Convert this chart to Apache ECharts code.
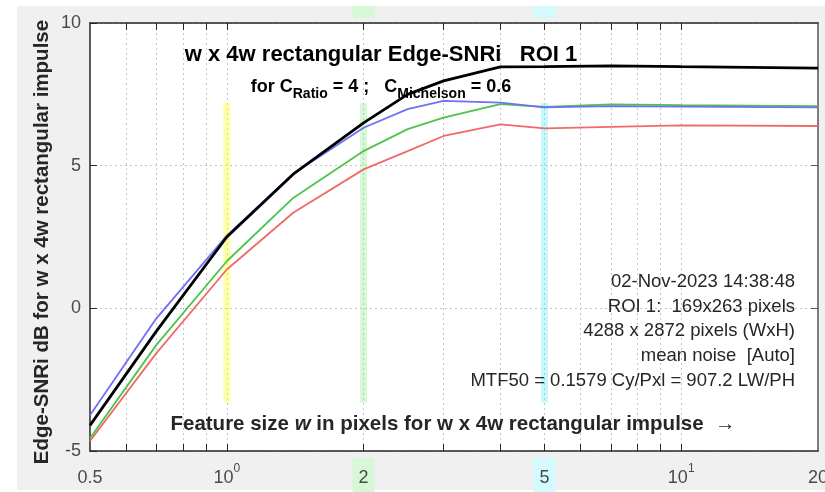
<!DOCTYPE html>
<html>
<head>
<meta charset="utf-8">
<script src="https://cdn.jsdelivr.net/npm/echarts@6/dist/echarts.min.js"></script>
<style>
  html, body { margin: 0; padding: 0; background: #fff; }
  #chart { width: 825px; height: 492px; }
</style>
</head>
<body>
<div id="chart"></div>
<script>
// feature size w in pixels
const sizes = [0.5, 0.7, 1, 1.4, 2, 2.5, 3, 4, 5, 7, 10, 20]
const snrBlack = [-4.1, -0.8, 2.5, 4.7, 6.5, 7.5, 7.97, 8.46, 8.47, 8.5, 8.47, 8.42]
const snrBlue = [-3.75, -0.35, 2.55, 4.72, 6.33, 6.98, 7.27, 7.21, 7.04, 7.09, 7.07, 7.04]
const snrGreen = [-4.55, -1.28, 1.65, 3.87, 5.51, 6.28, 6.68, 7.16, 7.06, 7.15, 7.12, 7.09]
const snrRed = [-4.65, -1.57, 1.36, 3.35, 4.87, 5.51, 6.04, 6.45, 6.31, 6.36, 6.41, 6.39]

const xLabels = [0.5, 1, 2, 5, 10, 20]
const xLabelsTop = [1, 2, 5, 10]
const xGrid = [0.6, 0.7, 0.8, 0.9, 1, 2, 3, 4, 5, 6, 7, 8, 9, 10]
const bandX = [1, 2, 5]
const bandY = [-3.3, 7.2]
const bandColors = ['rgba(255,255,60,0.45)', 'rgba(140,235,140,0.35)', 'rgba(110,235,245,0.4)']

const infoLines = [
  '02-Nov-2023 14:38:48',
  'ROI 1:  169x263 pixels',
  '4288 x 2872 pixels (WxH)',
  'mean noise  [Auto]',
  'MTF50 = 0.1579 Cy/Pxl = 907.2 LW/PH'
]

const FONT = 'Liberation Sans, Arial, sans-serif'
const tickColor = '#4a4a4a'

function pairs(ys) {
  return sizes.map((x, i) => [x, ys[i]])
}

function xLabelFormatter(v) {
  const r = Math.round(v * 10) / 10
  if (r === 1) return '{n|10}{sup|0}'
  if (r === 10) return '{n|10}{sup|1}'
  if (r === 2) return '{g|2}'
  if (r === 5) return '{c|5}'
  return '{n|' + r + '}'
}

const xRich = {
  n: { fontSize: 18, color: tickColor, fontFamily: FONT, padding: [11, 0, 11, 0] },
  sup: { fontSize: 12, color: tickColor, fontFamily: FONT, padding: [0, 0, 18, 0] },
  g: { fontSize: 18, color: tickColor, fontFamily: FONT, backgroundColor: '#d6f8d6', padding: [11, 6, 11, 6] },
  c: { fontSize: 18, color: tickColor, fontFamily: FONT, backgroundColor: '#d3fafc', padding: [11, 6, 11, 6] }
}

function xAxisDef(position, margin, labels) {
  return {
    type: 'log',
    logBase: 10,
    min: 0.5,
    max: 20,
    position: position,
    axisLine: { show: true, onZero: false, lineStyle: { color: '#262626', width: 1.5 } },
    axisTick: { show: true, inside: true, length: 7, customValues: xGrid, lineStyle: { color: '#262626' } },
    axisLabel: {
      show: true,
      customValues: labels,
      margin: margin,
      formatter: xLabelFormatter,
      rich: xRich
    },
    splitLine: position === 'bottom'
      ? { show: true, lineStyle: { color: '#c4c4c4', type: [2, 3], width: 1 } }
      : { show: false },
    minorTick: { show: false }
  }
}

const chart = echarts.init(document.getElementById('chart'))

const bandSeries = bandX.map((x, i) => ({
  type: 'line',
  data: [[x, bandY[0]], [x, bandY[1]]],
  symbol: 'none',
  silent: true,
  z: 1,
  lineStyle: { width: 7, color: bandColors[i], cap: 'butt' }
}))

function curve(ys, color, width, z) {
  return {
    type: 'line',
    data: pairs(ys),
    symbol: 'none',
    z: z,
    lineStyle: { width: width, color: color },
    itemStyle: { color: color }
  }
}

chart.setOption({
  backgroundColor: '#ffffff',
  animation: false,
  grid: {
    left: 90, top: 23, right: 7, bottom: 41,
    containLabel: false,
    outerBoundsMode: 'none',
    show: true,
    backgroundColor: '#ffffff',
    borderWidth: 0
  },
  xAxis: [xAxisDef('bottom', 7, xLabels), xAxisDef('top', 5, xLabelsTop)],
  yAxis: [
    {
      type: 'value', min: -5, max: 10, interval: 5, position: 'left',
      axisLine: { show: true, onZero: false, lineStyle: { color: '#262626', width: 1.5 } },
      axisTick: { show: true, inside: true, length: 7, lineStyle: { color: '#262626' } },
      axisLabel: { fontSize: 18, color: tickColor, fontFamily: FONT, margin: 9 },
      splitLine: { show: true, lineStyle: { color: '#c4c4c4', type: [2, 3], width: 1 } }
    },
    {
      type: 'value', min: -5, max: 10, interval: 5, position: 'right',
      axisLine: { show: true, onZero: false, lineStyle: { color: '#555555', width: 1.5 } },
      axisTick: { show: true, inside: true, length: 7, lineStyle: { color: '#555555' } },
      axisLabel: { show: false },
      splitLine: { show: false }
    }
  ],
  series: bandSeries.concat([
    curve(snrRed, '#f06a6a', 1.8, 3),
    curve(snrGreen, '#4cc44c', 1.8, 4),
    curve(snrBlue, '#6f6ff8', 1.8, 5),
    curve(snrBlack, '#000000', 2.8, 6)
  ]),
  graphic: [
    // gray figure background
    { type: 'rect', z: -10, shape: { x: 17, y: 6, width: 808, height: 484 }, style: { fill: '#f0f0f0' } },
    // white margins that cut off the upper tick labels
    { type: 'rect', z: 100, shape: { x: 0, y: 0, width: 825, height: 6 }, style: { fill: '#ffffff' } },
    { type: 'rect', z: 100, shape: { x: 0, y: 0, width: 17, height: 492 }, style: { fill: '#ffffff' } },
    {
      type: 'text', z: 50, x: 381, y: 55,
      style: {
        text: 'w x 4w rectangular Edge-SNRi   ROI 1',
        font: 'bold 22px ' + FONT, fill: '#000', align: 'center', verticalAlign: 'middle'
      }
    },
    {
      type: 'text', z: 50, x: 381, y: 87,
      style: {
        text: '{t|for C}{s|Ratio}{t| = 4 ;   C}{s|Michelson}{t| = 0.6}',
        align: 'center', verticalAlign: 'middle',
        rich: {
          t: { font: 'bold 18px ' + FONT, fill: '#000' },
          s: { font: 'bold 14px ' + FONT, fill: '#000', padding: [14, 0, 0, 0] }
        }
      }
    },
    {
      type: 'text', z: 50, x: 42, y: 242, rotation: Math.PI / 2,
      style: {
        text: 'Edge-SNRi dB for w x 4w rectangular impulse',
        font: 'bold 20.5px ' + FONT, fill: '#262626', align: 'center', verticalAlign: 'middle'
      }
    },
    {
      type: 'text', z: 50, x: 453, y: 424,
      style: {
        text: '{t|Feature size }{i|w}{t| in pixels for w x 4w rectangular impulse  \u2192}',
        align: 'center', verticalAlign: 'middle',
        rich: {
          t: { font: 'bold 20.5px ' + FONT, fill: '#262626' },
          i: { font: 'italic bold 20.5px ' + FONT, fill: '#262626' }
        }
      }
    }
  ].concat(infoLines.map((line, i) => ({
    type: 'text', z: 50, x: 795, y: 282 + i * 24.7,
    style: {
      text: line, font: '18.5px ' + FONT, fill: '#262626', align: 'right', verticalAlign: 'middle'
    }
  })))
})
</script>
</body>
</html>
